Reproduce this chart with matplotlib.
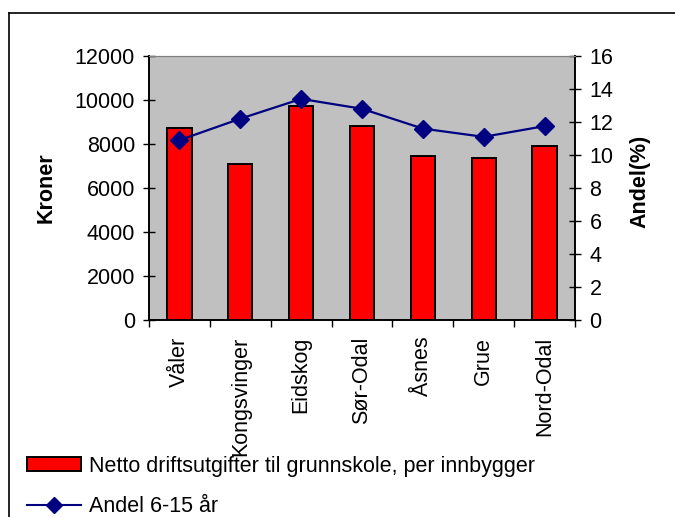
import matplotlib
matplotlib.use("Agg")
import matplotlib.pyplot as plt
from matplotlib import font_manager
from matplotlib.patches import Patch
from matplotlib.lines import Line2D
import numpy as np

# data
kommuner = ["Våler", "Kongsvinger", "Eidskog", "Sør-Odal", "Åsnes", "Grue", "Nord-Odal"]
kroner = [8710, 7080, 9710, 8800, 7440, 7350, 7900]
andel = [10.9, 12.2, 13.4, 12.8, 11.6, 11.1, 11.75]

bar_label = "Netto driftsutgifter til grunnskole, per innbygger"
line_label = "Andel 6-15 år"

plt.rcParams['font.family'] = ['Liberation Sans', 'DejaVu Sans']

installed = set(f.name for f in font_manager.fontManager.ttflist)
narrow = 'Liberation Sans Narrow' if 'Liberation Sans Narrow' in installed else 'Liberation Sans'

W, H = 675, 517
fig = plt.figure(figsize=(W / 100, H / 100), dpi=100)

# outer chart frame (runs off the right and bottom edge)
fig.add_artist(Line2D([8.5 / W, 8.5 / W], [0, 1 - 12.5 / H], color='black', lw=1.2,
                      transform=fig.transFigure))
fig.add_artist(Line2D([8.5 / W, 1], [1 - 12.5 / H, 1 - 12.5 / H], color='black', lw=1.2,
                      transform=fig.transFigure))

ax = fig.add_axes([149 / W, 1 - 320 / H, (575 - 149) / W, (320 - 56) / H])
ax.set_facecolor('#C0C0C0')

x = np.arange(len(kommuner))
ax.bar(x, kroner, width=0.4, color='#FF0000', edgecolor='black', linewidth=1.4, zorder=2)
ax.set_xlim(-0.5, len(kommuner) - 0.5)
ax.set_ylim(0, 12000)
ax.set_yticks(np.arange(0, 12001, 2000))
ax.tick_params(axis='y', direction='inout', length=8, width=1, labelsize=15.5, pad=6)

ax.set_xticks(x)
ax.set_xticklabels(kommuner, rotation=90, fontsize=15.5, va='top', ha='center')
ax.tick_params(axis='x', which='major', length=0, pad=12)
ax.set_xticks(np.arange(-0.5, len(kommuner), 1), minor=True)
ax.tick_params(axis='x', which='minor', direction='out', length=5, width=1)

ax2 = ax.twinx()
ax2.plot(x, andel, color='#000080', lw=1.6, marker='D', markersize=9, zorder=3)
ax2.set_ylim(0, 16)
ax2.set_yticks(np.arange(0, 17, 2))
ax2.tick_params(axis='y', direction='inout', length=9, width=1, labelsize=15.5, pad=6)

for a in (ax, ax2):
    a.spines['top'].set_color('#808080')
    for s in ('left', 'right', 'bottom'):
        a.spines[s].set_color('black')
        a.spines[s].set_linewidth(1.2)

fig.text(46 / W, 1 - 188 / H, "Kroner", rotation=90, fontsize=15.5, fontweight='bold',
         ha='center', va='center')
fig.text(640 / W, 1 - 181 / H, "Andel(%)", rotation=90, fontsize=15.5, fontweight='bold',
         ha='center', va='center')

handles = [
    Patch(facecolor='#FF0000', edgecolor='black', linewidth=1.4),
    Line2D([], [], color='#000080', lw=1.5, marker='D', markersize=8),
]
fig.legend(handles, [bar_label, line_label], loc='upper left',
           bbox_to_anchor=(27 / W, 1 - 456 / H), frameon=False,
           prop={'family': narrow, 'size': 15.5}, handlelength=2.5, handleheight=0.62,
           handletextpad=0.37, borderpad=0, borderaxespad=0, labelspacing=0.9)

fig.savefig("out.png", dpi=100)
